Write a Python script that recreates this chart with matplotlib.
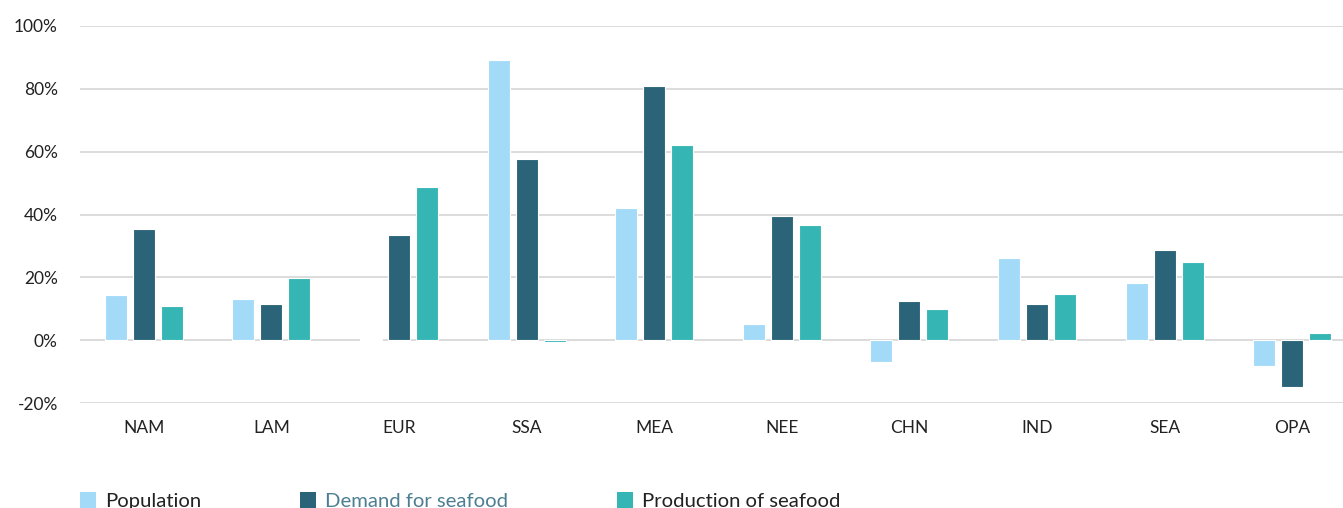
import numpy as np
import matplotlib
matplotlib.use("Agg")
import matplotlib.pyplot as plt
from matplotlib.patches import Patch
from matplotlib.ticker import FuncFormatter, MultipleLocator

plt.rcParams['font.family'] = ['Lato', 'DejaVu Sans']

# regions and % change per series
regions = ["NAM", "LAM", "EUR", "SSA", "MEA", "NEE", "CHN", "IND", "SEA", "OPA"]
population = [14.3, 13.0, 0.3, 89.3, 42.0, 5.0, -7.0, 26.3, 18.2, -8.3]
demand = [35.4, 11.4, 33.6, 57.7, 80.9, 39.4, 12.4, 11.4, 28.6, -15.0]
production = [10.8, 19.9, 48.9, -0.5, 62.0, 36.8, 9.9, 14.8, 24.8, 2.2]

series_names = ["Population", "Demand for seafood", "Production of seafood"]
colors = ["#A3DAF8", "#2B6478", "#36B5B5"]
label_colors = ["#222222", "#4D7F92", "#222222"]

fig = plt.figure(figsize=(13.43, 5.08), dpi=100)
ax = fig.add_axes([80 / 1343, 105 / 508, 1276 / 1343, 377 / 508])

x = np.arange(len(regions))
w = 0.172
step = 0.219
for i, vals in enumerate([population, demand, production]):
    ax.bar(x + (i - 1) * step, vals, width=w, color=colors[i],
           edgecolor="white", linewidth=0.8, zorder=3)

ax.set_xlim(-0.5, len(regions) - 0.5)
ax.set_ylim(-20, 100)
ax.yaxis.set_major_locator(MultipleLocator(20))
ax.yaxis.set_major_formatter(FuncFormatter(lambda v, p: "%d%%" % v))
ax.set_xticks(x)
ax.set_xticklabels(regions)
ax.grid(axis="y", color="#D9D9D9", linewidth=1.3, zorder=0)
ax.tick_params(axis="both", length=0, labelsize=12.5, colors="#222222")
ax.tick_params(axis="x", pad=12)
ax.tick_params(axis="y", pad=16)
for s in ax.spines.values():
    s.set_visible(False)

# legend entries placed one by one along the bottom
leg_x = [80, 300, 617]
for i, name in enumerate(series_names):
    leg = fig.legend(handles=[Patch(facecolor=colors[i], edgecolor="none")],
                     labels=[name], loc="center left",
                     bbox_to_anchor=(leg_x[i] / 1343, 7 / 508),
                     frameon=False, fontsize=14.6, handlelength=0.8,
                     handleheight=0.8, handletextpad=0.45,
                     borderpad=0, borderaxespad=0)
    leg.get_texts()[0].set_color(label_colors[i])

fig.savefig("out.png", dpi=100)
